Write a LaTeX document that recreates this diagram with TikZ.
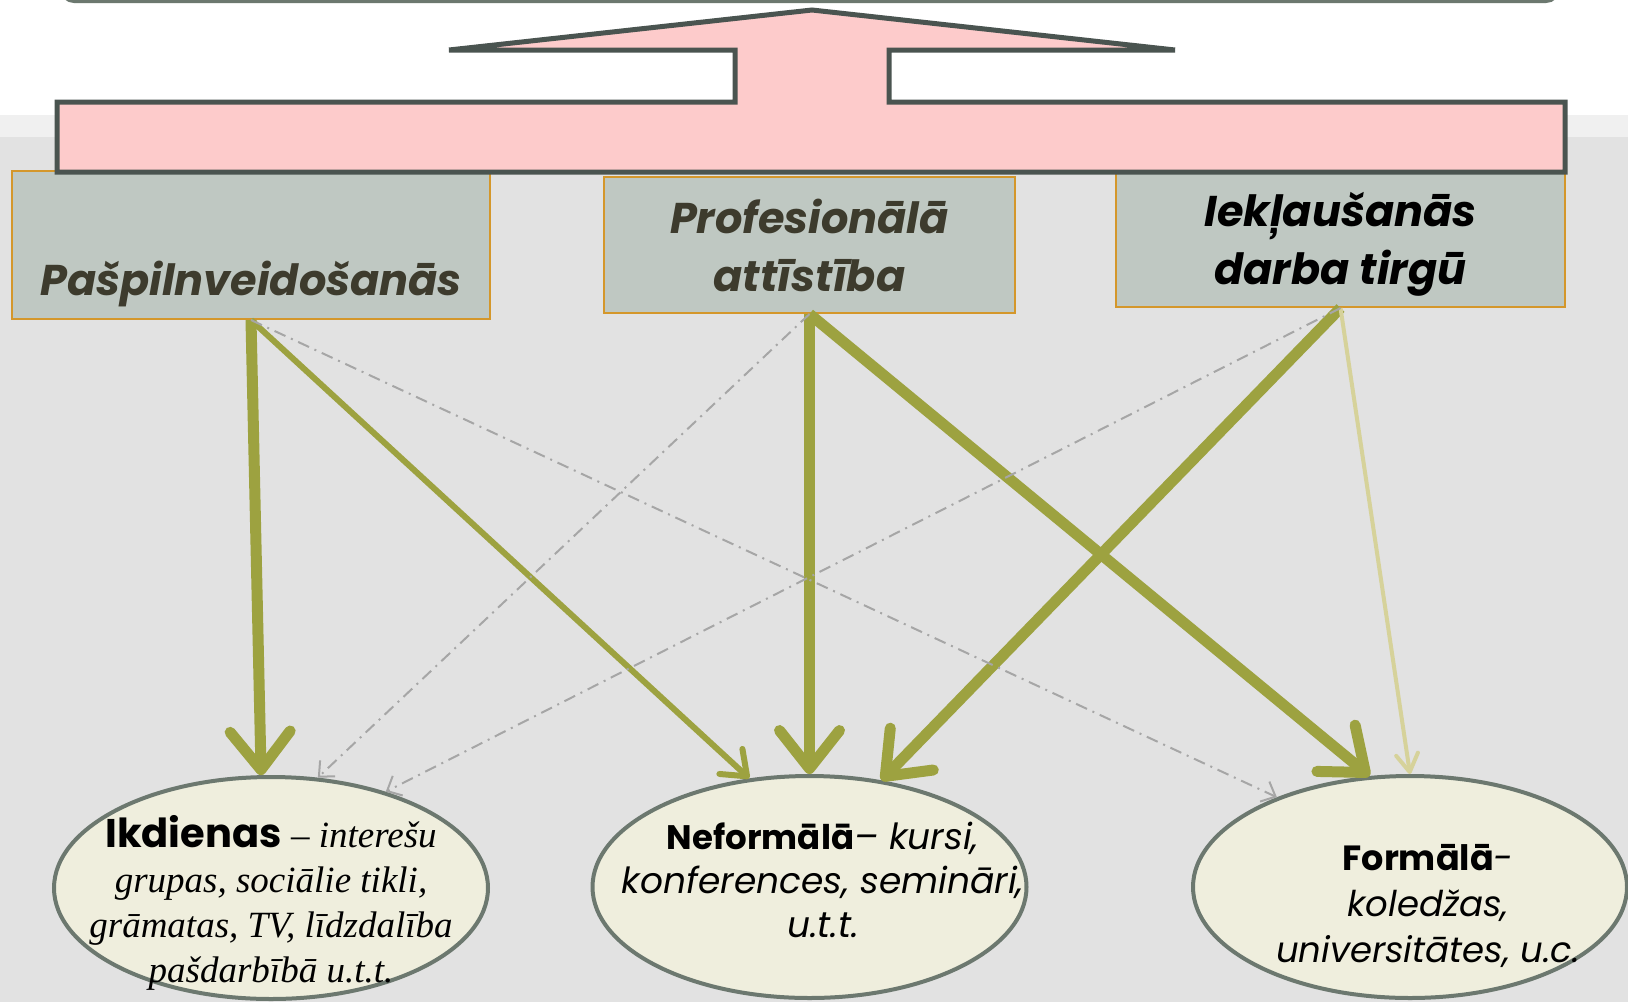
\documentclass[tikz,border=0pt]{standalone}
\usepackage{fontspec}
\setmainfont{Poppins}
\newfontfamily\serifit{Liberation Serif}
\usetikzlibrary{arrows.meta, shapes.geometric}

\definecolor{olivegreen}{RGB}{157,162,64}
\definecolor{palegreen}{RGB}{214,210,154}
\definecolor{dashgray}{RGB}{166,166,166}
\definecolor{boxfill}{RGB}{191,200,194}
\definecolor{boxline}{RGB}{212,151,43}
\definecolor{ovalfill}{RGB}{239,238,221}
\definecolor{ovalline}{RGB}{108,120,111}
\definecolor{pinkfill}{RGB}{253,203,203}
\definecolor{pinkline}{RGB}{74,84,80}
\definecolor{darktext}{RGB}{61,59,45}
\definecolor{bggray}{RGB}{226,226,226}
\definecolor{bgband}{RGB}{240,240,240}

\begin{document}
\begin{tikzpicture}[x=1pt, y=-1pt,
    goal/.style={draw=boxline, line width=2pt, fill=boxfill, inner sep=0pt, align=center,
        font=\fontsize{43}{58}\selectfont\bfseries\itshape},
    oval/.style={draw=ovalline, line width=4pt, fill=ovalfill, ellipse,
        minimum width=434pt, minimum height=222pt, inner sep=0pt},
    ovaltext/.style={align=center, inner sep=0pt, anchor=base},
    mainlink/.style={draw=olivegreen, line width=11pt, -{Straight Barb[length=38pt, width=60pt, round]}},
    sidelink/.style={draw=olivegreen, line width=6pt, -{Straight Barb[length=22pt, width=34pt, round]}},
    faintlink/.style={draw=palegreen, line width=4pt, -{Straight Barb[length=18pt, width=22pt, round]}},
    dashlink/.style={draw=dashgray, line width=2pt, dash pattern=on 12pt off 6pt on 2pt off 6pt,
        -{Straight Barb[length=12pt, width=22pt]}}]
  \useasboundingbox (0,0) rectangle (1628,1002);
  \clip (0,0) rectangle (1628,1002);

  % background
  \fill[white] (0,0) rectangle (1628,1002);
  \fill[bgband] (0,115) rectangle (1628,137);
  \fill[bggray] (0,137) rectangle (1628,1002);
  \draw[ovalline, line width=4pt, rounded corners=12pt, fill=white] (62,-60) rectangle (1558,1);

  % the three goals
  \node[goal, text=darktext, minimum width=478pt, minimum height=148pt] (self) at (251,245) {\rule{0pt}{55pt}\\Pašpilnveidošanās};
  \node[goal, text=darktext, minimum width=411pt, minimum height=136pt] (prof) at (809.5,245) {Profesionālā\\attīstība};
  \node[goal, text=black, minimum width=449pt, minimum height=139pt] (job) at (1340.5,237.5) {\rule{0pt}{48pt}Iekļaušanās\\darba tirgū};

  % block arrow
  \draw[pinkline, fill=pinkfill, line width=5pt] (57,102) -- (735,102) -- (735,50) -- (449,50) -- (812,10)
    -- (1175,50) -- (889,50) -- (889,102) -- (1565,102) -- (1565,172) -- (57,172) -- cycle;

  % kinds of learning
  \node[oval] (daily) at (271,888) {};
  \node[oval] (nonformal) at (809.5,887) {};
  \node[oval] (formal) at (1410,887) {};

  \node[ovaltext, font=\fontsize{37}{45}\selectfont\serifit\itshape] (dailytext) at (271,982)
    {{\upshape\fontspec{Poppins}\bfseries\fontsize{40}{45}\selectfont Ikdienas} – interešu\\grupas, sociālie tikli,\\grāmatas, TV, līdzdalība\\pašdarbībā u.t.t.};
  \node[ovaltext, font=\fontsize{36}{44}\selectfont\itshape] (nonformaltext) at (823,937)
    {{\upshape\bfseries\fontsize{34}{44}\selectfont Neformālā}– kursi,\\konferences, semināri,\\u.t.t.};
  \node[ovaltext, font=\fontsize{35.5}{46}\selectfont\itshape] (formaltext) at (1428,962)
    {{\upshape\bfseries\fontsize{35}{46}\selectfont Formālā}-\\koledžas,\\universitātes, u.c.};

  \draw[mainlink] (self.south) -- (daily.95);
  \draw[sidelink] (self.south) -- (nonformal.119);
  \draw[mainlink] (prof.south) -- (nonformal.north);
  \draw[mainlink] (prof.south) -- (formal.110);
  \draw[mainlink] (job.south) -- (nonformal.56);
  \draw[faintlink] (job.south) -- (formal.north);

  \draw[dashlink] (self.south) -- (formal.146);
  \draw[dashlink] (prof.south) -- (daily.67);
  \draw[dashlink] (job.south) -- (daily.40);
\end{tikzpicture}
\end{document}
